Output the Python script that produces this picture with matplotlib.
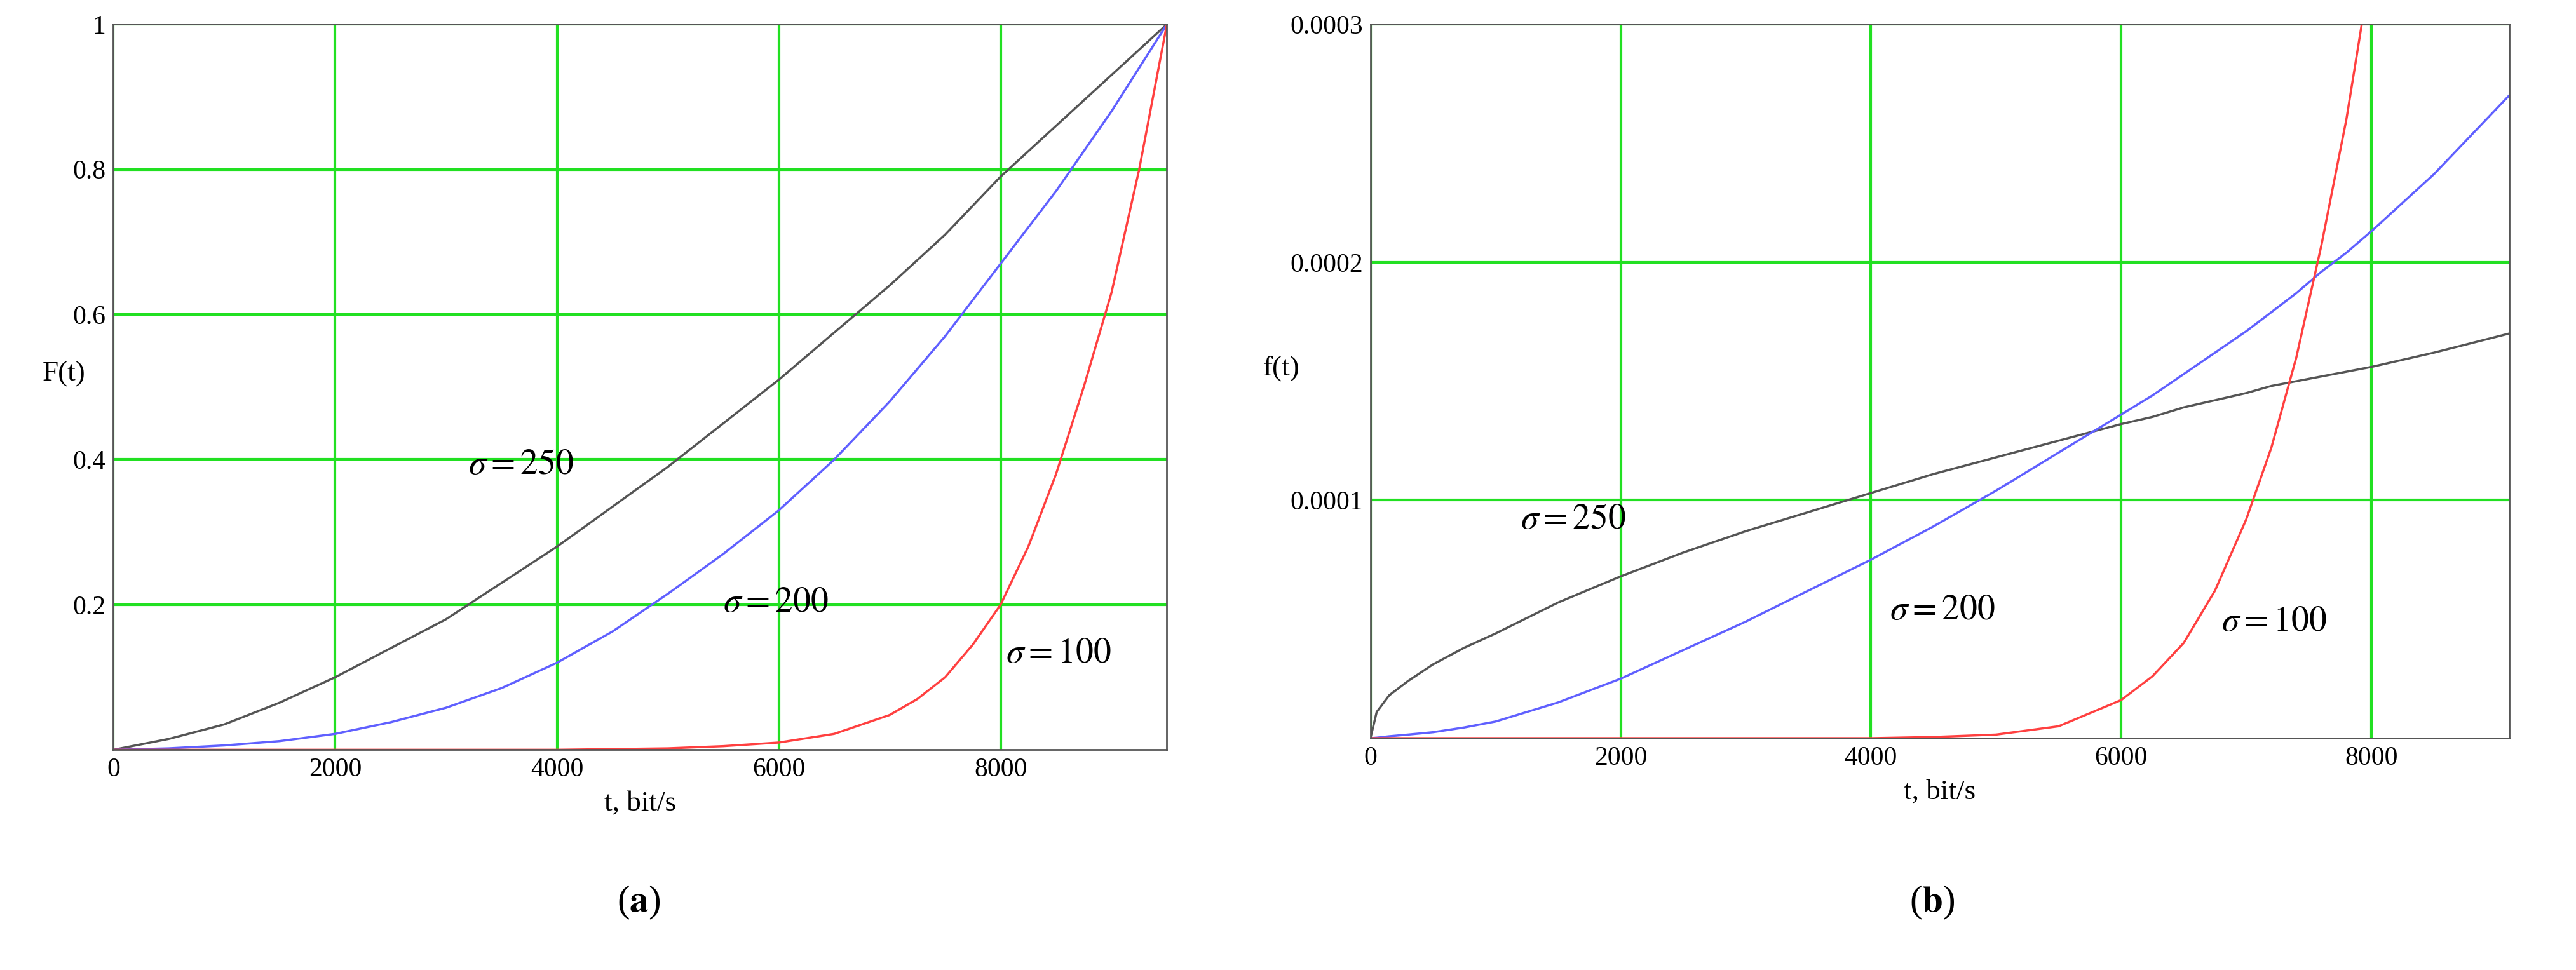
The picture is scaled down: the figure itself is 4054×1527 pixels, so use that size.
import matplotlib.pyplot as plt

plt.rcParams['font.family'] = ['Liberation Serif', 'DejaVu Serif']
plt.rcParams['mathtext.fontset'] = 'stix'

# panel (a): F(t)
t_a = [0, 500, 1000, 1500, 2000, 2500, 3000, 3500, 4000, 4500, 5000, 5500, 6000, 6500, 7000,
       7250, 7500, 7750, 8000, 8250, 8500, 8750, 9000, 9250, 9500]
F_250 = [0, 0.015, 0.035, 0.065, 0.1, 0.14, 0.18, 0.23, 0.28, 0.335, 0.39, 0.45, 0.51, 0.575, 0.64,
         0.675, 0.71, 0.75, 0.79, 0.825, 0.86, 0.895, 0.93, 0.965, 1.0]
F_200 = [0, 0.002, 0.006, 0.012, 0.022, 0.038, 0.058, 0.085, 0.12, 0.163, 0.215, 0.27, 0.33, 0.4, 0.48,
         0.525, 0.57, 0.62, 0.67, 0.72, 0.77, 0.825, 0.88, 0.94, 1.0]
F_100 = [0, 0, 0, 0, 0, 0, 0, 0, 0, 0.001, 0.002, 0.005, 0.01, 0.022, 0.048,
         0.07, 0.1, 0.145, 0.2, 0.28, 0.38, 0.5, 0.63, 0.8, 1.0]

# panel (b): f(t)
t_b = [0, 50, 150, 300, 500, 750, 1000, 1500, 2000, 2500, 3000, 3500, 4000, 4500, 5000, 5500, 6000,
       6250, 6500, 6750, 7000, 7200, 7400, 7600, 7800, 8000, 8500, 9100]
f_250 = [0, 1.1e-5, 1.8e-5, 2.4e-5, 3.1e-5, 3.8e-5, 4.4e-5, 5.7e-5, 6.8e-5, 7.8e-5, 8.7e-5, 9.5e-5,
         1.03e-4, 1.11e-4, 1.18e-4, 1.25e-4, 1.32e-4, 1.35e-4, 1.39e-4, 1.42e-4, 1.45e-4, 1.48e-4,
         1.5e-4, 1.52e-4, 1.54e-4, 1.56e-4, 1.62e-4, 1.7e-4]
f_200 = [0, 0.2e-6, 0.8e-6, 1.5e-6, 2.5e-6, 4.5e-6, 7e-6, 1.5e-5, 2.5e-5, 3.7e-5, 4.9e-5, 6.2e-5,
         7.5e-5, 8.9e-5, 1.04e-4, 1.2e-4, 1.36e-4, 1.44e-4, 1.53e-4, 1.62e-4, 1.71e-4, 1.79e-4,
         1.87e-4, 1.96e-4, 2.04e-4, 2.13e-4, 2.37e-4, 2.7e-4]
f_100 = [0, 0, 0, 0, 0, 0, 0, 0, 0, 0, 0, 0, 0, 0.5e-6, 1.5e-6, 5e-6, 1.6e-5,
         2.6e-5, 4e-5, 6.2e-5, 9.2e-5, 1.22e-4, 1.6e-4, 2.07e-4, 2.6e-4, 3.25e-4, None, None]

fig = plt.figure(figsize=(4054/250, 1527/250), dpi=250)
ax1 = fig.add_axes([0.044, 0.227, 0.409, 0.748])
ax2 = fig.add_axes([0.532, 0.239, 0.442, 0.736])

for ax in (ax1, ax2):
    ax.grid(True, color='#22e022', lw=1.2)
    ax.set_axisbelow(True)
    ax.tick_params(length=0, labelsize=12)
    for s in ax.spines.values():
        s.set_color('#555555')

ax1.plot(t_a, F_250, color='#555555', lw=1)
ax1.plot(t_a, F_200, color='#6060ff', lw=1)
ax1.plot(t_a, F_100, color='#ff4040', lw=1)
ax1.set_xlim(0, 9500)
ax1.set_ylim(0, 1)
ax1.set_xticks([0, 2000, 4000, 6000, 8000])
ax1.set_yticks([0.2, 0.4, 0.6, 0.8, 1])
ax1.set_yticklabels(['0.2', '0.4', '0.6', '0.8', '1'])
ax1.set_xlabel('t, bit/s', fontsize=13)
ax1.set_ylabel('F(t)', fontsize=13, rotation=0, labelpad=4)
ax1.text(3200, 0.38, r'$\sigma = 250$', fontsize=16)
ax1.text(5500, 0.19, r'$\sigma = 200$', fontsize=16)
ax1.text(8050, 0.12, r'$\sigma = 100$', fontsize=16)

tb_r = [t for t, v in zip(t_b, f_100) if v is not None]
f_r = [v for v in f_100 if v is not None]
ax2.plot(t_b, f_250, color='#555555', lw=1)
ax2.plot(t_b, f_200, color='#6060ff', lw=1)
ax2.plot(tb_r, f_r, color='#ff4040', lw=1)
ax2.set_xlim(0, 9100)
ax2.set_ylim(0, 0.0003)
ax2.set_xticks([0, 2000, 4000, 6000, 8000])
ax2.set_yticks([0.0001, 0.0002, 0.0003])
ax2.set_yticklabels(['0.0001', '0.0002', '0.0003'])
ax2.set_xlabel('t, bit/s', fontsize=13)
ax2.set_ylabel('f(t)', fontsize=13, rotation=0, labelpad=4)
ax2.text(1200, 0.000088, r'$\sigma = 250$', fontsize=16)
ax2.text(4150, 0.00005, r'$\sigma = 200$', fontsize=16)
ax2.text(6800, 0.000045, r'$\sigma = 100$', fontsize=16)

fig.text(0.248, 0.06, r'($\mathbf{a}$)', fontsize=17, ha='center')
fig.text(0.75, 0.06, r'($\mathbf{b}$)', fontsize=17, ha='center')

fig.savefig('out.png', dpi=250)
